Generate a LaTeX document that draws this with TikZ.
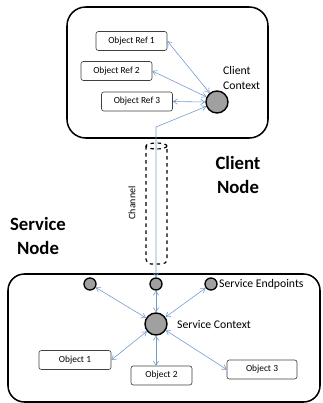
\documentclass[tikz,border=0pt]{standalone}
\usepackage{fontspec}
\setmainfont{Carlito}
\usetikzlibrary{arrows.meta}

\definecolor{linkblue}{RGB}{115,155,205}
\definecolor{ctxgray}{RGB}{160,160,160}

\begin{document}
\begin{tikzpicture}[
  x=0.03cm, y=-0.03cm,
  hostbox/.style = {draw, line width=1.3pt, rounded corners=16pt},
  refbox/.style  = {draw, black!75, line width=0.5pt, rounded corners=2pt,
                    minimum height=0.57cm, text=black,
                    font=\fontsize{8}{9.5}\selectfont},
  ctx/.style     = {draw, circle, line width=1.2pt, fill=ctxgray,
                    minimum size=0.66cm, inner sep=0pt},
  ept/.style     = {draw, circle, line width=1.1pt, fill=ctxgray,
                    minimum size=0.36cm, inner sep=0pt},
  link/.style    = {{Straight Barb[length=3.5pt,width=4.5pt]}-{Straight Barb[length=3.5pt,width=4.5pt]},
                    linkblue, line width=0.5pt},
  lbl/.style     = {font=\fontsize{10}{12.5}\selectfont, align=left},
  title/.style   = {font=\fontsize{16}{20}\selectfont\bfseries, align=center},
]
\useasboundingbox (0,0) rectangle (322,403);

% the two hosts
\draw[hostbox] (67,7) rectangle (268,138);
\draw[hostbox, rounded corners=14pt] (8,274) rectangle (320,402);

% client side
\node[refbox, minimum width=2.13cm] (ref1) at (131.5,41)  {Object Ref 1};
\node[refbox, minimum width=2.13cm] (ref2) at (116.5,71)  {Object Ref 2};
\node[refbox, minimum width=2.13cm] (ref3) at (137,101.5) {Object Ref 3};
\node[ctx] (cc) at (217,102) {};
\node[lbl, anchor=west] (cclbl) at (219,78) {Client\\Context};

\draw[link] (ref1.east) -- (cc);
\draw[link] (ref2.east) -- (cc);
\draw[link] (ref3.east) -- (cc.west);

% service side
\node[ept] (ep1) at (90,284)  {};
\node[ept] (ep2) at (156,284) {};
\node[ept] (ep3) at (211,284) {};
\node[lbl, anchor=west] (eplbl) at (215,284) {Service Endpoints};
\node[ctx] (sc) at (156,324) {};
\node[lbl, anchor=west] (sclbl) at (173,325) {Service Context};

\node[refbox, minimum width=2.16cm] (obj1) at (75,360)    {Object 1};
\node[refbox, minimum width=1.83cm] (obj2) at (161.5,375.5) {Object 2};
\node[refbox, minimum width=2.1cm]  (obj3) at (262,369.5) {Object 3};

\foreach \e in {ep1,ep2,ep3}
  \draw[link] (sc) -- (\e);
\draw[link] (sc) -- (obj1.east);
\draw[link] (sc) -- (sc |- obj2.north);
\draw[link] (sc) -- (obj3.west);

% channel between the nodes
\draw[dashed, line width=1pt, rounded corners=4pt]
  (146,146) -- (146,264) -- (167,264) -- (167,146);
\draw[dashed, line width=1pt] (156.5,146) ellipse (10.5 and 3);
\node[font=\fontsize{8.5}{10}\selectfont, rotate=90] (chlbl) at (132,203) {Channel};

\coordinate (bend) at (156,127);
\draw[link] (ep2) -- (bend) -- (cc);

\node[title] (cnode) at (238,175) {Client\\Node};
\node[title] (snode) at (38,236)  {Service\\Node};

\end{tikzpicture}
\end{document}
